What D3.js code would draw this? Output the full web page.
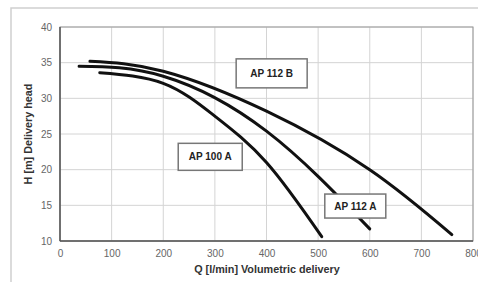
<!DOCTYPE html>
<html><head><meta charset="utf-8">
<script src="https://cdn.jsdelivr.net/npm/d3@7"></script>
<style>body{margin:0;background:#fff}svg{display:block}</style>
</head><body>
<svg id="c" width="478" height="282"></svg>
<script>
const xTicks = [0,100,200,300,400,500,600,700,800];
const yTicks = [10,15,20,25,30,35,40];
const qB = [58,200,400,600,759];
const hB = [35.2,33.8,28.2,20.0,10.9];
const qA = [37,200,400,600];
const hA = [34.5,33.1,25.4,11.7];
const q100 = [77,200,300,400,507];
const h100 = [33.6,32.1,27.5,21.0,10.6];
const labelNames = ["AP 112 B","AP 100 A","AP 112 A"];
const labelQ = [410,291,572];
const labelH = [33.5,21.8,14.9];
const xTitle = "Q [l/min] Volumetric delivery";
const yTitle = "H [m] Delivery head";

const FONT = "Liberation Sans, Arial, sans-serif";
const svg = d3.select("#c");
const L=60,R=473,T=27,B=241;
const x = d3.scaleLinear().domain([0,800]).range([L,R]);
const y = d3.scaleLinear().domain([10,40]).range([B,T]);

// outer frame
svg.append("path").attr("d","M11,282 L11,8 L478,8").attr("fill","none").attr("stroke","#cfcfcf").attr("stroke-width",1.5);

// grid
const g = svg.append("g");
g.selectAll("line.v").data(xTicks).join("line").attr("class","v").attr("x1",d=>x(d)).attr("x2",d=>x(d)).attr("y1",T).attr("y2",B).attr("stroke","#d4d4d4").attr("stroke-width",1);
g.selectAll("line.h").data(yTicks).join("line").attr("class","h").attr("x1",L).attr("x2",R).attr("y1",d=>y(d)).attr("y2",d=>y(d)).attr("stroke","#d4d4d4").attr("stroke-width",1);
svg.append("rect").attr("x",L).attr("y",T).attr("width",R-L).attr("height",B-T).attr("fill","none").attr("stroke","#999").attr("stroke-width",1);
svg.append("line").attr("x1",L).attr("x2",L).attr("y1",T).attr("y2",B).attr("stroke","#555").attr("stroke-width",1.5);
svg.append("line").attr("x1",L).attr("x2",R).attr("y1",B).attr("y2",B).attr("stroke","#555").attr("stroke-width",1.5);

// axes via d3
const xa = svg.append("g").attr("transform",`translate(0,${B})`).call(d3.axisBottom(x).tickValues(xTicks).tickSize(0).tickPadding(9));
const ya = svg.append("g").attr("transform",`translate(${L},0)`).call(d3.axisLeft(y).tickValues(yTicks).tickSize(0).tickPadding(8));
[xa,ya].forEach(a=>{a.select(".domain").remove();a.selectAll("text").attr("fill","#666").attr("font-family",FONT).attr("font-size",10);});

// titles
svg.append("text").attr("x",267).attr("y",273).attr("text-anchor","middle").attr("font-family",FONT).attr("font-weight","bold").attr("font-size",10.8).attr("fill","#333").text(xTitle);
svg.append("text").attr("transform",`translate(32,${(T+B)/2}) rotate(-90)`).attr("text-anchor","middle").attr("font-family",FONT).attr("font-weight","bold").attr("font-size",10.8).attr("fill","#333").text(yTitle);

// curves
const line = d3.line().x(d=>x(d[0])).y(d=>y(d[1])).curve(d3.curveNatural);
const data = [d3.zip(qB,hB), d3.zip(qA,hA), d3.zip(q100,h100)];
svg.selectAll("path.curve").data(data).join("path").attr("class","curve").attr("d",line).attr("fill","none").attr("stroke","#111").attr("stroke-width",3).attr("stroke-linecap","round");

// labels
const lab = svg.selectAll("g.lab").data(labelNames).join("g").attr("class","lab").attr("transform",(d,i)=>`translate(${x(labelQ[i])},${y(labelH[i])})`);
const bw=[71,64,61], bh=[29,27,24];
lab.append("rect").attr("x",(d,i)=>-bw[i]/2).attr("y",(d,i)=>-bh[i]/2).attr("width",(d,i)=>bw[i]).attr("height",(d,i)=>bh[i]).attr("fill","#fff").attr("stroke","#777").attr("stroke-width",1.5);
lab.append("text").attr("text-anchor","middle").attr("dy","0.35em").attr("font-family",FONT).attr("font-weight","bold").attr("font-size",10).attr("fill","#222").text(d=>d);
</script>
</body></html>
